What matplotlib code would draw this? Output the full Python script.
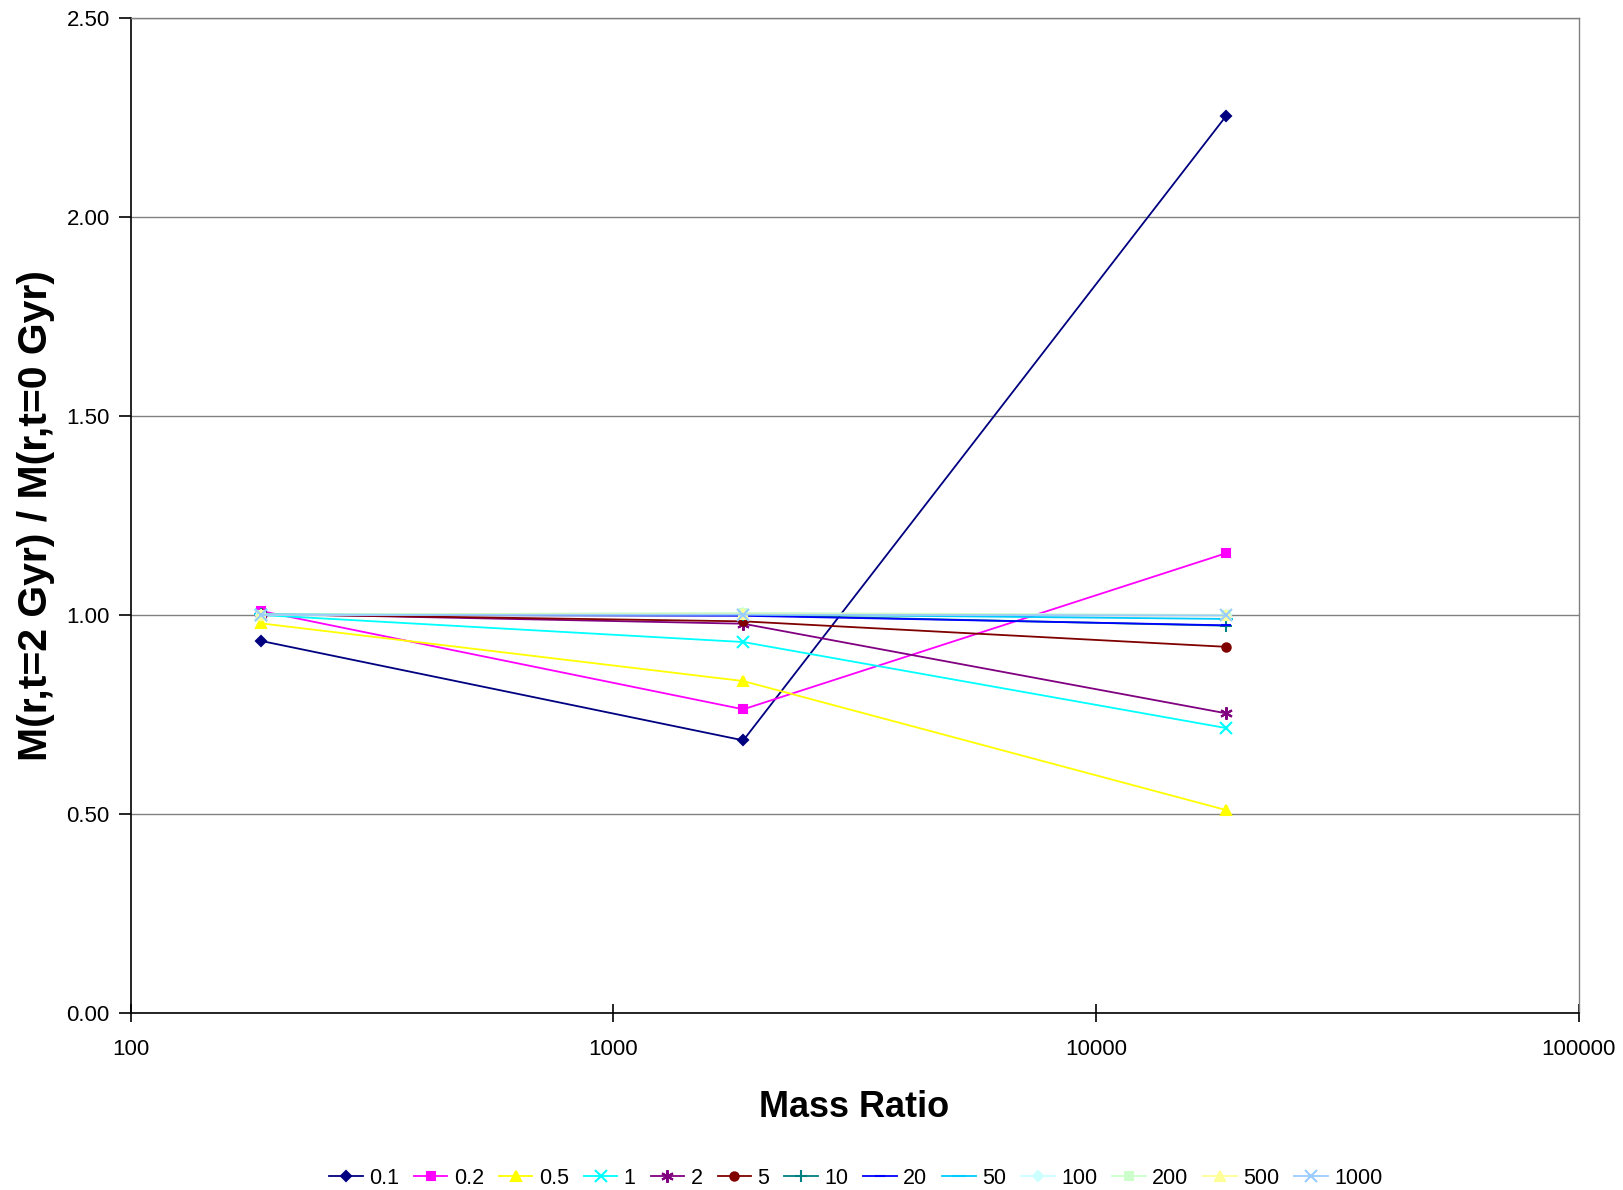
import matplotlib
matplotlib.use("Agg")
import matplotlib.pyplot as plt
from matplotlib.ticker import FixedLocator, NullLocator

plt.rcParams['font.family'] = ['Liberation Sans', 'DejaVu Sans']

# Mass ratios sampled
mass_ratio = [186, 1860, 18600]

# Radius labels for each series
series_labels = ["0.1", "0.2", "0.5", "1", "2", "5", "10", "20", "50",
                 "100", "200", "500", "1000"]

# M(r, t=2 Gyr) / M(r, t=0 Gyr) for each radius
r_0p1 = [0.935, 0.685, 2.253]
r_0p2 = [1.010, 0.763, 1.155]
r_0p5 = [0.979, 0.834, 0.510]
r_1 = [1.000, 0.932, 0.716]
r_2 = [1.003, 0.978, 0.753]
r_5 = [1.002, 0.984, 0.920]
r_10 = [1.002, 1.000, 0.973]
r_20 = [1.001, 0.998, 0.974]
r_50 = [1.002, 1.002, 0.990]
r_100 = [1.001, 1.004, 1.000]
r_200 = [1.001, 1.005, 1.000]
r_500 = [1.000, 1.002, 0.999]
r_1000 = [1.000, 1.001, 0.999]

series_values = [r_0p1, r_0p2, r_0p5, r_1, r_2, r_5, r_10, r_20, r_50,
                 r_100, r_200, r_500, r_1000]

colors = ["#000080", "#FF00FF", "#FFFF00", "#00FFFF", "#800080", "#800000",
          "#008080", "#0000FF", "#00CCFF", "#CCFFFF", "#CCFFCC", "#FFFF99",
          "#99CCFF"]
markers = ["D", "s", "^", "x", (6, 2, 0), "o", "+", "_", "_", "D", "s", "^", "x"]
msizes = [5, 6, 7, 8, 9, 6, 9, 7, 10, 5, 6, 7, 8]

fig = plt.figure(figsize=(16.24, 11.9), dpi=100)
ax = fig.add_axes([0.0804, 0.1487, 0.8916, 0.8363])

handles = []
for lab, vals, c, m, ms in zip(series_labels, series_values, colors, markers, msizes):
    h, = ax.plot(mass_ratio, vals, color=c, marker=m, markersize=ms,
                 markeredgewidth=1.5, linewidth=1.3, label=lab,
                 markerfacecolor=c, markeredgecolor=c)
    handles.append(h)

ax.set_xscale('log')
ax.set_xlim(100, 100000)
ax.set_ylim(0, 2.5)
ax.xaxis.set_major_locator(FixedLocator([100, 1000, 10000, 100000]))
ax.xaxis.set_minor_locator(NullLocator())
ax.set_xticklabels(["100", "1000", "10000", "100000"])
ax.set_yticks([0, 0.5, 1.0, 1.5, 2.0, 2.5])
ax.set_yticklabels(["0.00", "0.50", "1.00", "1.50", "2.00", "2.50"])
ax.yaxis.grid(True, color="#808080", linewidth=1.0)
ax.set_axisbelow(True)

ax.tick_params(axis='y', direction='out', length=9, width=1.2,
               labelsize=16, pad=6, colors='black')
ax.tick_params(axis='x', direction='inout', length=13, width=1.2,
               labelsize=16, pad=12, colors='black')
for side in ('top', 'right'):
    ax.spines[side].set_color("#808080")
    ax.spines[side].set_linewidth(1.0)
for side in ('left', 'bottom'):
    ax.spines[side].set_color("black")
    ax.spines[side].set_linewidth(1.2)

ax.set_xlabel("Mass Ratio", fontsize=26, fontweight='bold', labelpad=22)
ax.set_ylabel("M(r,t=2 Gyr) / M(r,t=0 Gyr)", fontsize=29.5, fontweight='bold',
              labelpad=8)

fig.legend(handles=handles, labels=series_labels, loc='lower center',
           bbox_to_anchor=(0.527, -0.006), ncol=13, frameon=False, fontsize=15.5,
           handlelength=1.55, handletextpad=0.3, columnspacing=0.7,
           borderaxespad=0.0)

fig.savefig("out.png", dpi=100)
